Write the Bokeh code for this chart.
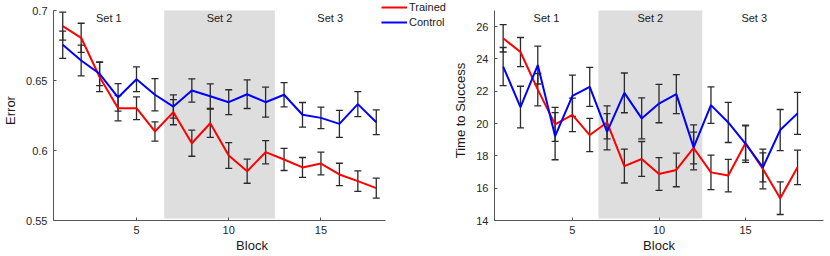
from bokeh.plotting import figure
from bokeh.models import BoxAnnotation, Legend, LegendItem, FixedTicker, Range1d
from bokeh.layouts import row
from bokeh.embed import file_html
from bokeh.resources import INLINE
from bokeh.core.properties import value

# ---------------- data ----------------
blocks = list(range(1, 19))

trained_error = [0.6888, 0.6805, 0.6525, 0.6302, 0.6302, 0.6136, 0.6274, 0.6052, 0.6195,
                 0.5964, 0.5852, 0.5988, 0.5936, 0.5879, 0.5907, 0.5829, 0.5781, 0.5731]
trained_error_sem = [0.0100, 0.0104, 0.0105, 0.0090, 0.0081, 0.0069, 0.0090, 0.0093, 0.0101,
                     0.0092, 0.0086, 0.0083, 0.0079, 0.0071, 0.0081, 0.0080, 0.0073, 0.0071]
control_error = [0.6755, 0.6643, 0.6548, 0.6379, 0.6509, 0.6398, 0.6314, 0.6429, 0.6388,
                 0.6345, 0.6402, 0.6345, 0.6398, 0.6255, 0.6233, 0.6190, 0.6331, 0.6202]
control_error_sem = [0.0097, 0.0110, 0.0084, 0.0098, 0.0088, 0.0115, 0.0083, 0.0083, 0.0088,
                     0.0089, 0.0102, 0.0107, 0.0087, 0.0088, 0.0077, 0.0096, 0.0089, 0.0088]

trained_tts = [25.28, 24.43, 22.10, 19.95, 20.54, 19.29, 20.07, 17.37, 17.81,
               16.88, 17.13, 18.49, 16.98, 16.78, 18.80, 17.19, 15.38, 17.29]
trained_tts_sem = [0.85, 0.90, 1.00, 1.05, 1.04, 1.03, 1.02, 1.05, 1.08,
                   1.01, 1.04, 0.98, 1.07, 1.01, 1.06, 1.23, 1.01, 1.07]
control_tts = [23.53, 21.02, 23.62, 19.22, 21.72, 22.27, 19.49, 21.90, 20.32,
               21.24, 21.82, 18.53, 21.14, 20.07, 18.75, 17.29, 19.60, 20.63]
control_tts_sem = [1.18, 1.29, 1.17, 1.46, 1.28, 1.21, 1.12, 1.23, 1.27,
                   1.19, 1.21, 1.39, 1.13, 1.24, 1.15, 0.90, 1.27, 1.30]

set_names = ["Set 1", "Set 2", "Set 3"]
set_centers = [3.5, 9.5, 15.5]
set2_bounds = [6.5, 12.5]

x_ticks = [5, 10, 15]
err_ticks = [0.55, 0.6, 0.65, 0.7]
err_tick_labels = ["0.55", "0.6", "0.65", "0.7"]
tts_ticks = [14, 16, 18, 20, 22, 24, 26]
tts_tick_labels = ["14", "16", "18", "20", "22", "24", "26"]

series_names = ["Trained", "Control"]
series_colors = ["#ff0000", "#0000ff"]

FONT = "Liberation Sans"
AXIS_COLOR = "#555555"
BAR_COLOR = "#2a2a2a"
HEIGHT = 256
AXES_W = 332          # pixel width of each axes box
AXES_H = 210          # pixel height of each axes box
TOP_PAD = 10          # pixels above each axes box
BOTTOM_PAD = 36


def make_panel(width, x_start, x_end, y_start, y_end, yticks, ylabels, ylabel, series,
               border_left, ylabel_standoff, room_right):
    # the plotting frame extends beyond the axes box (room for the legend at the top);
    # axis lines are bounded to the real data limits
    x_extra = (x_end - x_start) * room_right / AXES_W
    y_extra = (y_end - y_start) * TOP_PAD / AXES_H
    p = figure(width=width, height=HEIGHT, output_backend="svg", toolbar_location=None,
               title_location=None,
               x_range=Range1d(x_start, x_end + x_extra),
               y_range=Range1d(y_start, y_end + y_extra),
               min_border_left=border_left, min_border_right=width - border_left - AXES_W - room_right,
               min_border_top=0, min_border_bottom=BOTTOM_PAD)
    p.outline_line_color = None
    p.xgrid.visible = False
    p.ygrid.visible = False
    p.background_fill_color = "white"
    p.border_fill_color = "white"

    shade_bottom = y_start + (y_end - y_start) * 2 / AXES_H
    p.add_layout(BoxAnnotation(left=set2_bounds[0], right=set2_bounds[1],
                               bottom=shade_bottom, top=y_end,
                               fill_color="#dedede", fill_alpha=1.0, line_alpha=0,
                               level="underlay"))

    renderers = []
    for vals, sems in series:
        upper = [v + s for v, s in zip(vals, sems)]
        lower = [v - s for v, s in zip(vals, sems)]
        p.segment(x0=blocks, y0=lower, x1=blocks, y1=upper, line_color=BAR_COLOR, line_width=1.3)
        p.scatter(x=blocks, y=upper, marker="dash", size=7, line_color=BAR_COLOR, line_width=1.3)
        p.scatter(x=blocks, y=lower, marker="dash", size=7, line_color=BAR_COLOR, line_width=1.3)
    for (vals, sems), color in zip(series, series_colors):
        r = p.line(x=blocks, y=vals, line_color=color, line_width=2)
        renderers.append(r)

    p.text(x=set_centers, y=[y_end] * 3, text=set_names, text_font=value(FONT),
           text_font_size="11px", text_align="center", text_baseline="middle",
           y_offset=7, text_color="#1a1a1a")

    for ax in (p.xaxis[0], p.yaxis[0]):
        ax.axis_line_color = AXIS_COLOR
        ax.major_tick_line_color = AXIS_COLOR
        ax.major_tick_in = 3
        ax.major_tick_out = 0
        ax.minor_tick_line_color = None
        ax.major_label_text_font = FONT
        ax.major_label_text_font_size = "11px"
        ax.major_label_text_color = "#262626"
        ax.axis_label_text_font = FONT
        ax.axis_label_text_font_size = "13px"
        ax.axis_label_text_font_style = "normal"
        ax.axis_label_text_color = "#1a1a1a"

    p.xaxis.ticker = FixedTicker(ticks=x_ticks)
    p.xaxis.bounds = (x_start, x_end)
    p.xaxis.axis_label = "Block"
    p.xaxis.major_label_standoff = 5
    p.xaxis.axis_label_standoff = 1

    p.yaxis.ticker = FixedTicker(ticks=yticks)
    p.yaxis.bounds = (y_start, y_end)
    p.yaxis.major_label_overrides = {t: l for t, l in zip(yticks, ylabels)}
    p.yaxis.axis_label = ylabel
    p.yaxis.major_label_standoff = 6
    p.yaxis.axis_label_standoff = ylabel_standoff
    return p, renderers


p1, rs = make_panel(450, 0.5, 18.5, 0.55, 0.7, err_ticks, err_tick_labels, "Error",
                    [(trained_error, trained_error_sem), (control_error, control_error_sem)],
                    53, 5, 65)
p2, _ = make_panel(380, 0.5, 19.5, 14, 27, tts_ticks, tts_tick_labels, "Time to Success",
                   [(trained_tts, trained_tts_sem), (control_tts, control_tts_sem)],
                   41, 5, 0)

legend = Legend(items=[LegendItem(label=n, renderers=[r]) for n, r in zip(series_names, rs)],
                location=(AXES_W - 4, AXES_H + TOP_PAD - 29), padding=0, margin=0, spacing=1,
                glyph_width=26, glyph_height=14, label_height=14, label_standoff=2,
                label_text_font=FONT, label_text_font_size="11px", label_text_color="#1a1a1a",
                border_line_alpha=0, background_fill_alpha=0)
p1.add_layout(legend)

layout = row(p1, p2)
open("out.html", "w").write(file_html(layout, INLINE))
